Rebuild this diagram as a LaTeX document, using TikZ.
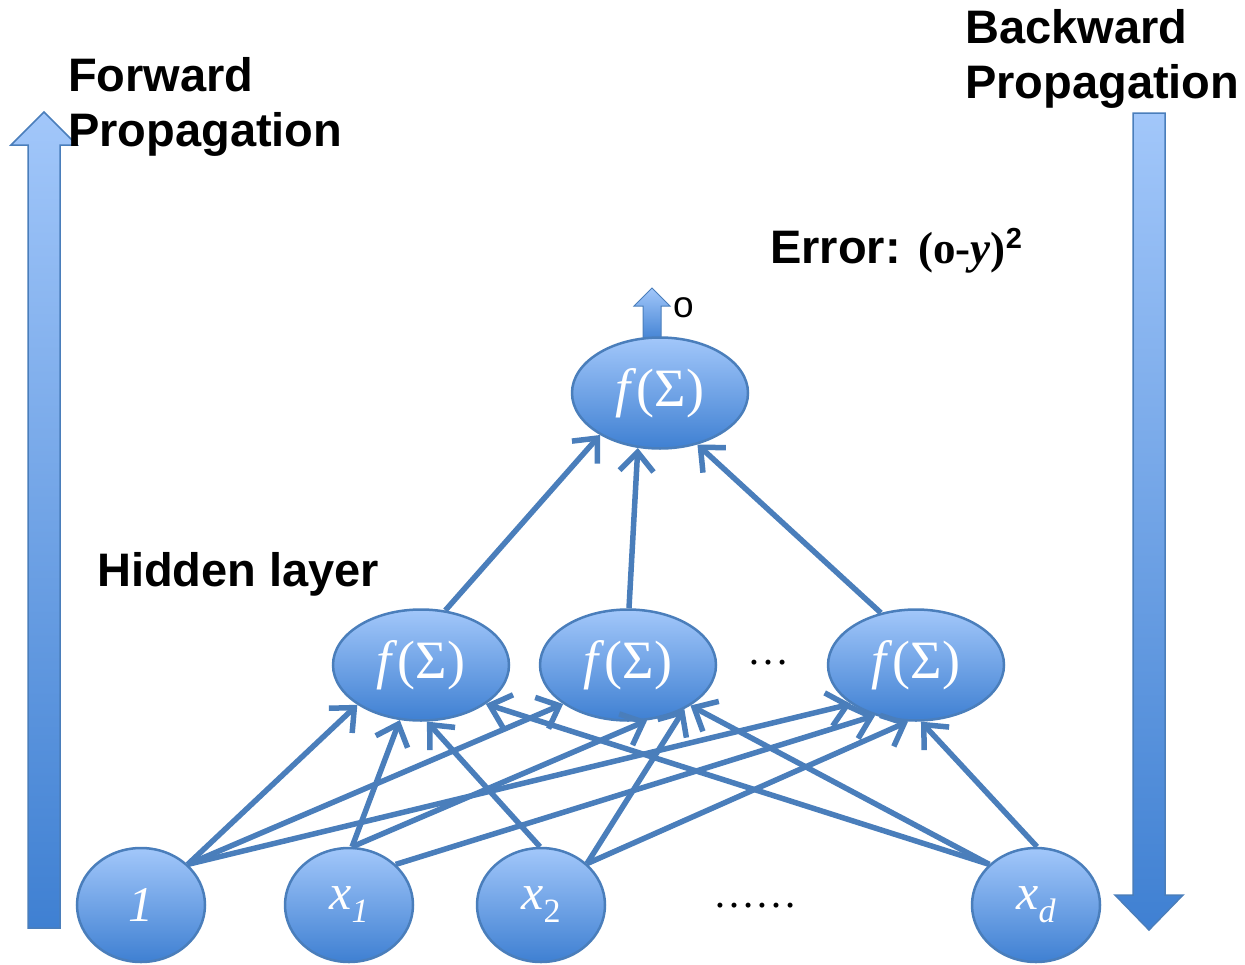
\documentclass[tikz,border=0pt]{standalone}
\usepackage{fontspec}
\setmainfont{Liberation Serif}
\newfontfamily\headfont{Liberation Sans}
\usetikzlibrary{shapes.geometric,arrows.meta}
\definecolor{edgeblue}{HTML}{4A7EBB}
\definecolor{fillhi}{HTML}{A2C7FA}
\definecolor{filllo}{HTML}{3F80D2}
\newcommand\lowidx[1]{\raisebox{-13pt}{\fontsize{34}{34}\selectfont #1}}
\begin{document}
\begin{tikzpicture}[x=1pt,y=-1pt,
  neuron/.style={ellipse, draw=edgeblue, line width=2.5pt, top color=fillhi,
    bottom color=filllo, minimum width=176pt, minimum height=111pt,
    inner sep=0pt, text=white, font=\fontsize{54}{60}\selectfont},
  unit/.style={neuron, minimum width=128pt, minimum height=114pt,
    font=\fontsize{50}{56}\selectfont},
  link/.style={draw=edgeblue, line width=5.5pt,
    -{Straight Barb[length=19pt,width=34pt,line width=5.5pt]}},
  bigarrow/.style={draw=edgeblue, line width=1.5pt, top color=fillhi,
    bottom color=filllo},
  headtext/.style={font=\headfont\bfseries\fontsize{47}{55}\selectfont,
    inner sep=0pt, align=left},
  dots/.style={inner sep=0pt, font=\fontsize{42}{42}\selectfont}
]
\useasboundingbox (0,0) rectangle (1245,964);

% propagation direction arrows
\path[bigarrow] (28,928) -- (28,145) -- (11,145) -- (44,112) -- (77,145)
  -- (60,145) -- (60,928) -- cycle;
\path[bigarrow] (1133,113) -- (1165,113) -- (1165,895) -- (1183,895)
  -- (1149,930) -- (1115,895) -- (1133,895) -- cycle;

% output arrow
\path[bigarrow, line width=1pt] (643,342) -- (643,306) -- (634,306) -- (652,288)
  -- (670,306) -- (661,306) -- (661,342) -- cycle;

% neurons
\node[neuron] (out) at (660,393) {\textit{f}(Σ)};
\node[neuron] (h1) at (421,665) {\textit{f}(Σ)};
\node[neuron] (h2) at (628,665) {\textit{f}(Σ)};
\node[neuron] (h3) at (916,665) {\textit{f}(Σ)};

\node[unit] (i0) at (141,905) {\textit{1}};
\node[unit] (i1) at (349,905) {\textit{x}\lowidx{\textit{1}}};
\node[unit] (i2) at (541,905) {\textit{x}\lowidx{2}};
\node[unit] (id) at (1036,905) {\textit{x}\lowidx{\textit{d}}};

\node[dots, anchor=base] (hdots) at (768,664) {…};
\node[dots, anchor=base] (idots) at (755,907) {……};

% input to hidden connections
\draw[link] (i0.41) -- (h1.212);
\draw[link] (i0.41) -- (h2.211);
\draw[link] (i0.41) -- (h3.211);
\draw[link] (i1.87) -- (h1.249);
\draw[link] (i1.87) -- (h2.289);
\draw[link] (i1.41) -- (h3.231);
\draw[link] (i2.91) -- (h1.276);
\draw[link] (i2.42) -- (h2.322);
\draw[link] (i2.42) -- (h3.262);
\draw[link] (id.139) -- (h1.329);
\draw[link] (id.139) -- (h2.327);
\draw[link] (id.89) -- (h3.275);

% hidden to output connections
\draw[link] (h1.66) -- (out.215);
\draw[link] (h2.89) -- (out.248);
\draw[link] (h3.124) -- (out.306);

% labels (base anchor sits on the last line)
\node[headtext, anchor=base west] (fwd) at (68,146) {Forward\\Propagation};
\node[headtext, anchor=base west] (bwd) at (965,98) {Backward\\Propagation};
\node[headtext, anchor=base west] (hid) at (97,586) {Hidden layer};
\node[anchor=base west, inner sep=0pt] (err) at (770,263)
  {{\headfont\bfseries\fontsize{47}{55}\selectfont Error: }{\bfseries\fontsize{45}{50}\selectfont(o-\textit{y})}\raisebox{15pt}{\headfont\bfseries\fontsize{29}{29}\selectfont 2}};
\node[anchor=base west, inner sep=0pt] (o) at (673,317)
  {\headfont\fontsize{37}{37}\selectfont o};
\end{tikzpicture}
\end{document}
